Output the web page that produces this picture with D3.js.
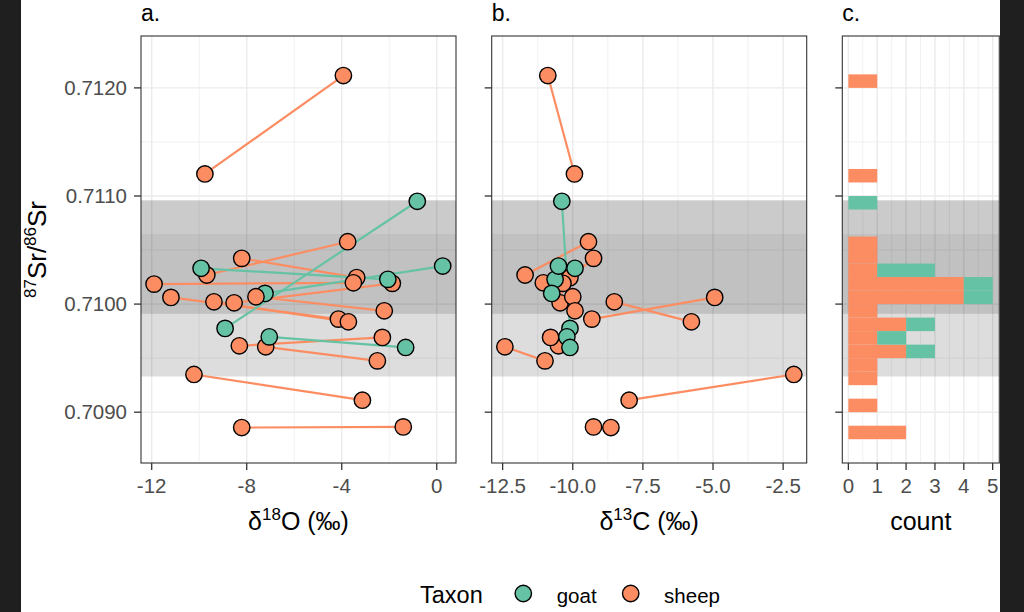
<!DOCTYPE html>
<html><head><meta charset="utf-8">
<script src="https://cdn.jsdelivr.net/npm/d3@7"></script>
<style>
body{margin:0;background:#fff}
svg{display:block}
text{font-family:"Liberation Sans",Arial,Helvetica,sans-serif}
</style>
</head><body>
<svg id="chart" width="1024" height="612"></svg>
<script>
// ---------- data (one row per sample; samples of the same animal share an id) ----------
const sampleId = ["S1","S1","S2","S2","S3","S3","S4","S4","S5","S5","S7","S7","S8","S8","S9","S9","S10","S10","S11","S11","S12","S12",
                  "G1","G1","G2","G2","G3","G3","G4","G4","S6","S6"];
const taxon    = ["sheep","sheep","sheep","sheep","sheep","sheep","sheep","sheep","sheep","sheep","sheep","sheep","sheep","sheep","sheep","sheep","sheep","sheep","sheep","sheep","sheep","sheep",
                  "goat","goat","goat","goat","goat","goat","goat","goat","sheep","sheep"];
const d18O     = [-3.93,-9.76,-3.75,-9.68,-8.21,-3.37,-11.90,-3.51,-8.53,-1.87,-11.19,-4.14,-9.38,-3.72,-8.31,-2.29,-7.20,-2.50,-10.22,-3.13,-8.21,-1.41,
                  -0.82,-8.91,-9.92,-2.06,0.25,-7.23,-7.05,-1.31,-7.61,-2.21];
const d13C     = [-10.89,-9.94,-9.44,-11.70,-9.26,-10.10,-10.65,-11.05,-10.45,-10.35,-4.94,-9.32,-8.52,-5.77,-10.51,-10.79,-12.42,-10.99,-2.12,-7.99,-8.64,-9.26,
                  -10.39,-10.10,-9.92,-10.63,-10.51,-10.75,-10.21,-10.10,-10.00,-9.92];
const srRatio  = [0.712114,0.711204,0.710577,0.710269,0.710423,0.710245,0.710185,0.710197,0.710012,0.710192,0.710062,0.709861,0.710021,0.709836,0.709614,0.709692,0.709605,0.709475,0.709349,0.709111,0.708858,0.708864,
                  0.710951,0.709775,0.710331,0.710229,0.710352,0.710099,0.709697,0.709599,0.710068,0.709938];

const taxa = ["goat","sheep"];
const taxaColors = ["#66C2A5","#FC8D62"];

const srTicks = [0.7090,0.7100,0.7110,0.7120];
const srMinor = [0.7095,0.7105,0.7115];
const oTicks = [-12,-8,-4,0];
const oMinor = [-10,-6,-2];
const cTicks = [-12.5,-10,-7.5,-5,-2.5];
const cMinor = [-11.25,-8.75,-6.25,-3.75];
const countTicks = [0,1,2,3,4,5];
const countMinor = [0.5,1.5,2.5,3.5,4.5];

// local baseline ranges (grey bands)
const bandLow  = [0.70933,0.70991,0.71065];
const bandHigh = [0.70991,0.71065,0.71096];
const bandShade = [0.135,0.245,0.205];

// histogram bins
const binOrigin = 0.70875;
const binWidth = 0.000125;

const srDomain = [0.70853,0.71248];
const oDomain = [-12.45,0.81];
const cDomain = [-12.89,-1.66];
const countDomain = [-0.21,5.23];

// ---------- drawing ----------
const points = sampleId.map((id,i)=>({id, taxon:taxon[i], o:d18O[i], c:d13C[i], sr:srRatio[i]}));
const svg = d3.select("#chart");
svg.append("rect").attr("width",1024).attr("height",612).attr("fill","#fff");
svg.append("rect").attr("x",0).attr("y",0).attr("width",21).attr("height",612).attr("fill","#1f1f1f");
svg.append("rect").attr("x",1000).attr("y",0).attr("width",24).attr("height",612).attr("fill","#1f1f1f");

const pTop = 36, pBottom = 463;
const y = d3.scaleLinear().domain(srDomain).range([pBottom, pTop]);
const xO = d3.scaleLinear().domain(oDomain).range([141,456]);
const xC = d3.scaleLinear().domain(cDomain).range([491.7,806.7]);
const xN = d3.scaleLinear().domain(countDomain).range([842.3,999.3]);
const color = d3.scaleOrdinal().domain(taxa).range(taxaColors);
const hyph = s => s.replace("\u2212","-");

function makePanel(x, major, minor, fmt, tag, title) {
  const [x0,x1] = x.range();
  const g = svg.append("g");
  const grid = g.append("g");
  grid.selectAll(null).data(minor).join("line")
    .attr("x1",d=>x(d)).attr("x2",d=>x(d)).attr("y1",pTop).attr("y2",pBottom)
    .attr("stroke","#ebebeb").attr("stroke-width",0.7);
  grid.selectAll(null).data(srMinor).join("line")
    .attr("x1",x0).attr("x2",x1).attr("y1",d=>y(d)).attr("y2",d=>y(d))
    .attr("stroke","#ebebeb").attr("stroke-width",0.7);
  grid.selectAll(null).data(major).join("line")
    .attr("x1",d=>x(d)).attr("x2",d=>x(d)).attr("y1",pTop).attr("y2",pBottom)
    .attr("stroke","#ebebeb").attr("stroke-width",1.4);
  grid.selectAll(null).data(srTicks).join("line")
    .attr("x1",x0).attr("x2",x1).attr("y1",d=>y(d)).attr("y2",d=>y(d))
    .attr("stroke","#ebebeb").attr("stroke-width",1.4);
  // bands
  g.append("g").selectAll(null).data(bandLow).join("rect")
    .attr("x",x0).attr("width",x1-x0)
    .attr("y",(d,i)=>y(bandHigh[i])).attr("height",(d,i)=>y(d)-y(bandHigh[i]))
    .attr("fill","#000").attr("fill-opacity",(d,i)=>bandShade[i]);
  const content = g.append("g");
  // border
  g.append("rect").attr("x",x0).attr("y",pTop).attr("width",x1-x0).attr("height",pBottom-pTop)
    .attr("fill","none").attr("stroke","#333").attr("stroke-width",1.1);
  // y ticks
  g.append("g").selectAll(null).data(srTicks).join("line")
    .attr("x1",x0-7).attr("x2",x0).attr("y1",d=>y(d)).attr("y2",d=>y(d))
    .attr("stroke","#333").attr("stroke-width",1.3);
  // x ticks
  g.append("g").selectAll(null).data(major).join("line")
    .attr("x1",d=>x(d)).attr("x2",d=>x(d)).attr("y1",pBottom).attr("y2",pBottom+7)
    .attr("stroke","#333").attr("stroke-width",1.3);
  g.append("g").selectAll(null).data(major).join("text")
    .attr("x",d=>x(d)).attr("y",486).attr("dy","0.35em").attr("text-anchor","middle")
    .attr("font-size",20.5).attr("fill","#4d4d4d").text(d=>hyph(fmt(d)));
  // tag
  g.append("text").attr("x",x0).attr("y",21).attr("font-size",23).attr("fill","#000").text(tag);
  // title
  const t = g.append("text").attr("x",(x0+x1)/2).attr("y",530).attr("text-anchor","middle")
    .attr("font-size",25).attr("fill","#000");
  title(t);
  return content;
}

// panel a
const ga = makePanel(xO, oTicks, oMinor, d3.format("d"), "a.", t=>{
  t.append("tspan").text("\u03b4");
  t.append("tspan").attr("font-size",17).attr("dy",-10).text("18");
  t.append("tspan").attr("dy",10).text("O (\u2030)");
});
// panel b
const gb = makePanel(xC, cTicks, cMinor, d3.format(".1f"), "b.", t=>{
  t.append("tspan").text("\u03b4");
  t.append("tspan").attr("font-size",17).attr("dy",-10).text("13");
  t.append("tspan").attr("dy",10).text("C (\u2030)");
});
// panel c
const gc = makePanel(xN, countTicks, countMinor, d3.format("d"), "c.", t=>{ t.text("count"); });

// y tick labels (panel a only)
svg.append("g").selectAll(null).data(srTicks).join("text")
  .attr("x",127).attr("y",d=>y(d)).attr("dy","0.35em").attr("text-anchor","end")
  .attr("font-size",20.5).attr("fill","#4d4d4d").text(d=>d3.format(".4f")(d));
// y axis title
const yt = svg.append("text").attr("transform","translate(46,249.5) rotate(-90)")
  .attr("text-anchor","middle").attr("font-size",26).attr("fill","#000");
yt.append("tspan").attr("font-size",17).attr("dy",-10).text("87");
yt.append("tspan").attr("dy",10).text("Sr/");
yt.append("tspan").attr("font-size",17).attr("dy",-10).text("86");
yt.append("tspan").attr("dy",10).text("Sr");

// scatter panels
const groups = d3.groups(points, d=>d.id);
function scatter(g, x, key) {
  const line = d3.line().x(d=>x(d[key])).y(d=>y(d.sr));
  g.selectAll(null).data(groups).join("path")
    .attr("d",d=>line(d[1])).attr("fill","none")
    .attr("stroke",d=>color(d[1][0].taxon)).attr("stroke-width",2.2);
  g.selectAll(null).data(points).join("circle")
    .attr("cx",d=>x(d[key])).attr("cy",d=>y(d.sr)).attr("r",8.2)
    .attr("fill",d=>color(d.taxon)).attr("stroke","#000").attr("stroke-width",1.4);
}
scatter(ga, xO, "o");
scatter(gb, xC, "c");

// histogram (stacked: sheep from 0, goat stacked after)
const binOf = v => Math.floor((v - binOrigin)/binWidth);
const counts = d3.rollup(points, v=>v.length, d=>binOf(d.sr), d=>d.taxon);
const bars = [];
for (const [b, m] of counts) {
  let start = 0;
  for (const tx of ["sheep","goat"]) {
    const n = m.get(tx) || 0;
    if (n > 0) bars.push({b, taxon:tx, x0:start, x1:start+n});
    start += n;
  }
}
gc.selectAll(null).data(bars).join("rect")
  .attr("x",d=>xN(d.x0)).attr("width",d=>xN(d.x1)-xN(d.x0))
  .attr("y",d=>y(binOrigin+(d.b+1)*binWidth))
  .attr("height",d=>y(binOrigin+d.b*binWidth)-y(binOrigin+(d.b+1)*binWidth))
  .attr("fill",d=>color(d.taxon));

// legend
const lg = svg.append("g");
lg.append("text").attr("x",420).attr("y",603).attr("font-size",23.5).attr("fill","#000").text("Taxon");
const legendX = [523.3, 630.7];
lg.selectAll(null).data(taxa).join("circle")
  .attr("cx",(d,i)=>legendX[i]).attr("cy",593.5).attr("r",8.2)
  .attr("fill",d=>color(d)).attr("stroke","#000").attr("stroke-width",1.4);
lg.selectAll(null).data(taxa).join("text")
  .attr("x",(d,i)=>legendX[i]+33.4).attr("y",602.5).attr("font-size",20.5).attr("fill","#000").text(d=>d);
</script>
</body></html>
